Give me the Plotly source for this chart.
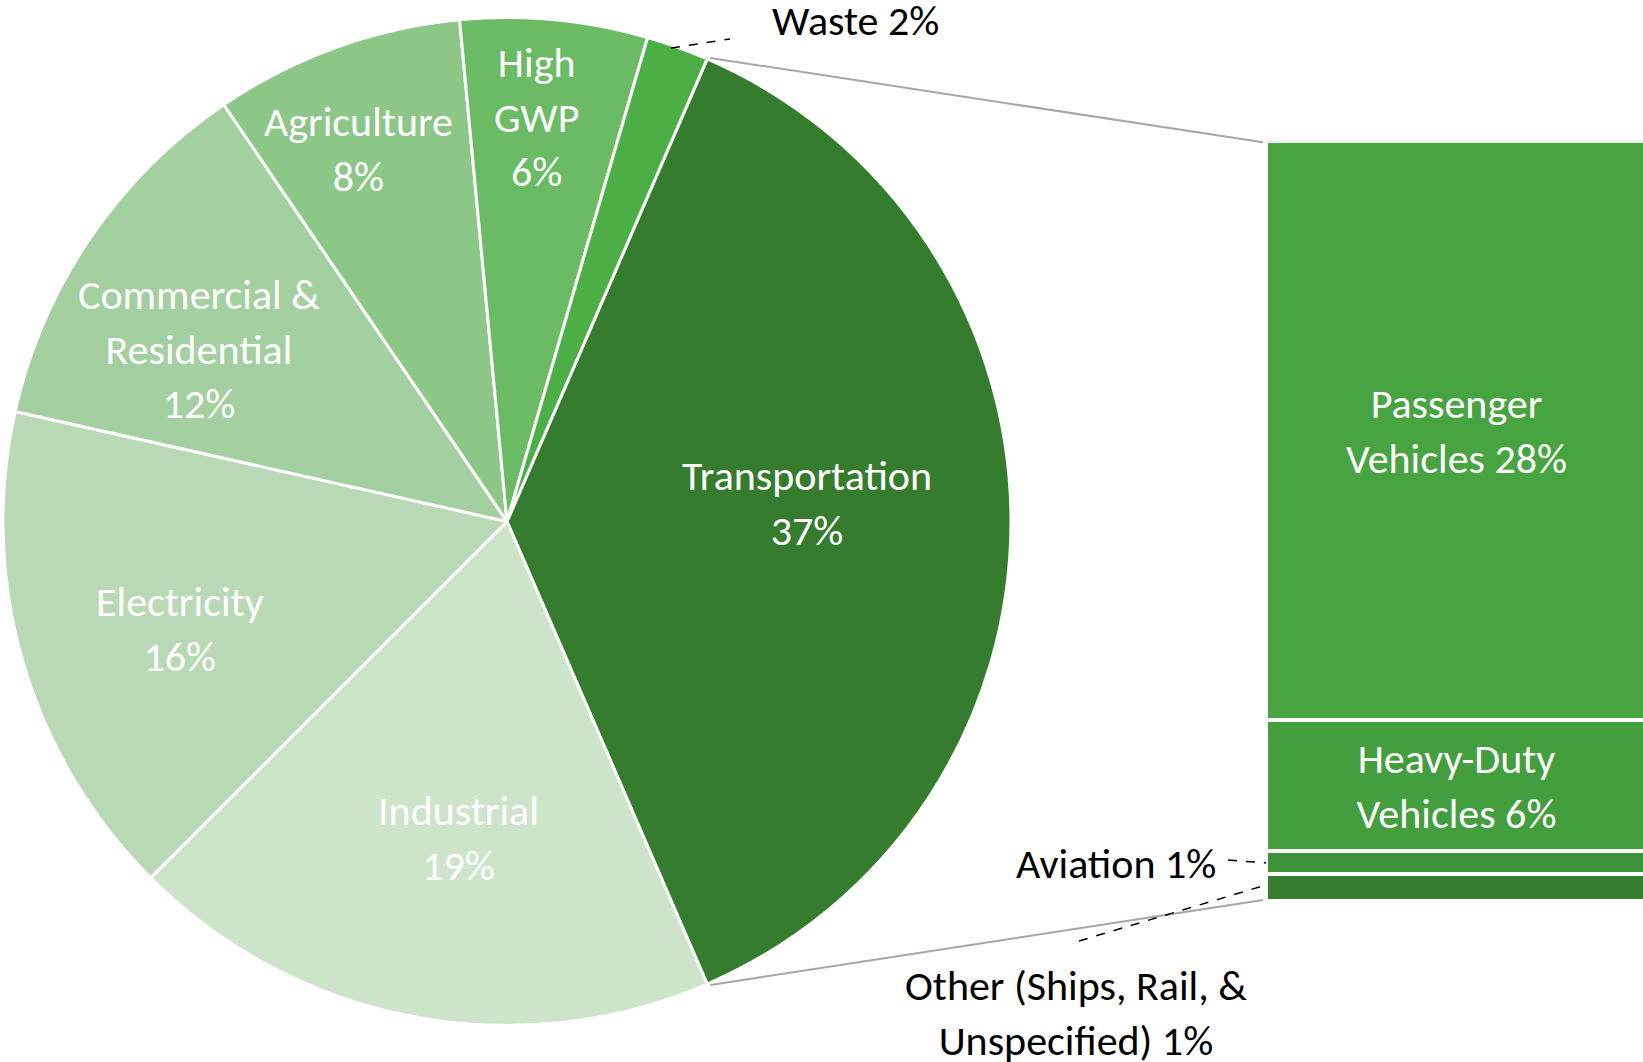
import math
import plotly.graph_objects as go

# ---------------- data ----------------
sectors = ["Transportation", "Industrial", "Electricity", "Commercial & Residential",
           "Agriculture", "High GWP", "Waste"]
sector_share = [37, 19, 16, 12, 8, 6, 2]
sector_labels = ["Transportation<br>37%", "Industrial<br>19%", "Electricity<br>16%",
                 "Commercial &amp;<br>Residential<br>12%", "Agriculture<br>8%",
                 "High<br>GWP<br>6%", "Waste 2%"]
sector_colors = ["#357C2F", "#CDE4CB", "#B9D9B6", "#A4CFA0", "#8CC788", "#6ABB64", "#4CAF46"]

transport_modes = ["Passenger Vehicles", "Heavy-Duty Vehicles", "Aviation",
                   "Other (Ships, Rail, & Unspecified)"]
transport_share = [28.2, 6.4, 1.1, 1.3]
transport_labels = ["Passenger<br>Vehicles 28%", "Heavy-Duty<br>Vehicles 6%",
                    "Aviation 1%", "Other (Ships, Rail, &amp;<br>Unspecified) 1%"]
transport_colors = ["#48A441", "#439E3D", "#3E9039", "#367D30"]

# ---------------- layout constants (pixels) ----------------
W, H = 1643, 1062
PIE_CX, PIE_CY, PIE_R = 507, 521.5, 504
BAR_X0, BAR_TOP, BAR_BOT = 1266, 141.3, 901.0
FONT = "Carlito, Calibri, Lato, sans-serif"
FS = 42
# label placement inside pie (fraction of radius, angle tweak in degrees)
label_rfrac = [0.596, 0.635, 0.683, 0.70, 0.796, 0.805]
label_dang = [-3.5, -2.0, -2.0, -5.0, -2.0, -1.2]


def px(x):
    return x / W


def py(y):
    return 1 - y / H


def pie_point(angle_deg, rfrac):
    a = math.radians(angle_deg)
    return (PIE_CX + PIE_R * rfrac * math.sin(a), PIE_CY - PIE_R * rfrac * math.cos(a))


total = sum(sector_share)
rotation = 90 - 360 * sector_share[0] / total / 2

fig = go.Figure()
fig.add_trace(go.Pie(
    labels=sectors, values=sector_share, sort=False, direction="clockwise",
    rotation=rotation, marker=dict(colors=sector_colors, line=dict(color="white", width=3)),
    textinfo="none", hoverinfo="skip", showlegend=False,
    domain=dict(x=[px(PIE_CX - PIE_R), px(PIE_CX + PIE_R)],
                y=[py(PIE_CY + PIE_R), py(PIE_CY - PIE_R)]),
))

# stacked bar: bottom-first order
t_total = sum(transport_share)
for i in reversed(range(len(transport_modes))):
    txt = transport_labels[i] if i < 2 else ""
    fig.add_trace(go.Bar(
        x=[0], y=[transport_share[i]], name=transport_modes[i], width=1,
        marker=dict(color=transport_colors[i], line=dict(color="white", width=4)),
        text=[txt], textposition="inside", insidetextanchor="middle",
        constraintext="none", textangle=0,
        textfont=dict(color="white", size=FS, family=FONT),
        hoverinfo="skip", showlegend=False,
    ))

annotations = []
shapes = []

# pie labels
cum = 0
mids = []
for v in sector_share:
    mids.append(rotation + 360 * (cum + v / 2) / total)
    cum += v
for i in range(len(sector_share) - 1):
    x, y = pie_point(mids[i] + label_dang[i], label_rfrac[i])
    annotations.append(dict(x=px(x), y=py(y), xref="paper", yref="paper", text=sector_labels[i],
                            showarrow=False, xanchor="center", yanchor="middle",
                            font=dict(color="white", size=FS, family=FONT)))

# Waste label outside + leader
wx, wy = pie_point(mids[-1], 0.99)
shapes.append(dict(type="line", xref="paper", yref="paper", x0=px(wx - 5), y0=py(wy - 4),
                   x1=px(730), y1=py(39), line=dict(color="black", width=1.5, dash="dash")))
annotations.append(dict(x=px(770), y=py(21), xref="paper", yref="paper", text=sector_labels[-1],
                        showarrow=False, xanchor="left", yanchor="middle",
                        font=dict(color="black", size=FS, family=FONT)))

# connector lines from Transportation slice to bar
start_ang = rotation
end_ang = rotation + 360 * sector_share[0] / total
sx, sy = pie_point(start_ang, 1.0)
ex, ey = pie_point(end_ang, 1.0)
shapes.append(dict(type="line", xref="paper", yref="paper", x0=px(sx + 3), y0=py(sy - 1),
                   x1=px(BAR_X0 - 3), y1=py(BAR_TOP + 1), line=dict(color="#A6A6A6", width=2)))
shapes.append(dict(type="line", xref="paper", yref="paper", x0=px(ex + 3), y0=py(ey + 1),
                   x1=px(BAR_X0 - 3), y1=py(BAR_BOT - 1), line=dict(color="#A6A6A6", width=2)))

# Aviation label + leader
other_v, avi_v = transport_share[3], transport_share[2]
avi_mid = other_v + avi_v / 2
annotations.append(dict(x=px(1218), y=avi_mid, xref="paper", yref="y", text=transport_labels[2],
                        showarrow=False, xanchor="right", yanchor="middle",
                        font=dict(color="black", size=FS, family=FONT)))
shapes.append(dict(type="line", xref="paper", yref="y", x0=px(1228), y0=avi_mid + 0.15,
                   x1=px(BAR_X0), y1=avi_mid, line=dict(color="black", width=1.5, dash="dash")))

# Other label + leader
annotations.append(dict(x=px(1076), y=py(1013), xref="paper", yref="paper", text=transport_labels[3],
                        showarrow=False, xanchor="center", yanchor="middle",
                        font=dict(color="black", size=FS, family=FONT)))
shapes.append(dict(type="line", xref="paper", yref="paper", x0=px(1079), y0=py(941),
                   x1=px(BAR_X0), y1=py(885),
                   line=dict(color="black", width=1.5, dash="dash")))

fig.update_layout(
    width=W, height=H, margin=dict(l=0, r=0, t=0, b=0),
    paper_bgcolor="white", plot_bgcolor="white", barmode="stack", bargap=0,
    xaxis=dict(domain=[px(BAR_X0), 1], range=[-0.5, 0.49], visible=False, fixedrange=True),
    yaxis=dict(domain=[py(BAR_BOT), py(BAR_TOP)], range=[0, t_total], visible=False, fixedrange=True),
    annotations=annotations, shapes=shapes, font=dict(family=FONT),
)

fig.write_html(
    "out.html",
    config={"displayModeBar": False},
    post_script="document.body.style.margin='0';document.body.style.overflow='hidden';",
)
